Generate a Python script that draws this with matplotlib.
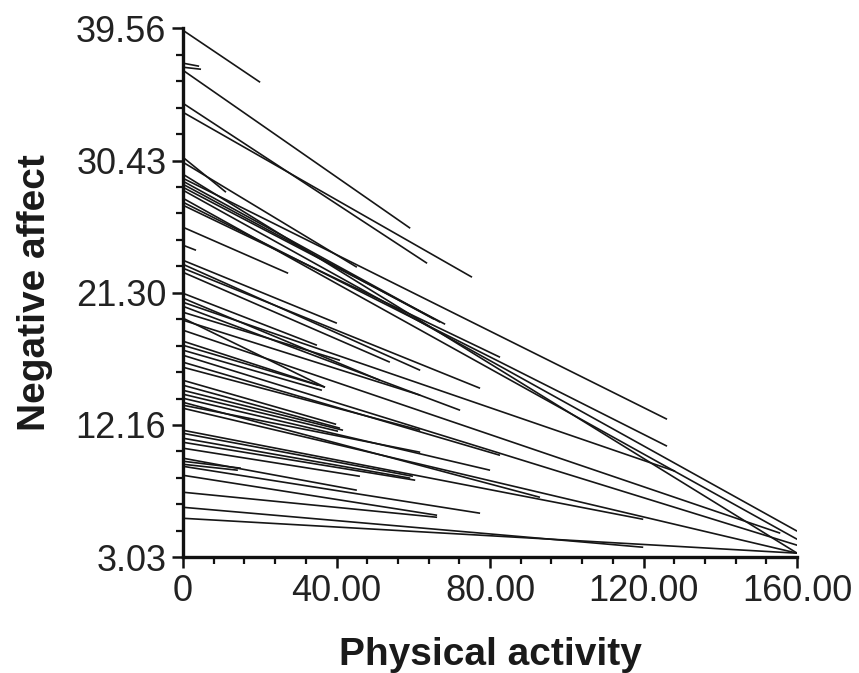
import matplotlib
matplotlib.use("Agg")
import matplotlib.pyplot as plt
import numpy as np

plt.rcParams['font.family'] = ['Liberation Sans', 'DejaVu Sans']

# Each individual regression line: value at x=0, end x, value at end x
start_y = [39.42, 37.15, 36.87, 36.66, 34.38, 33.76, 30.65, 30.31, 29.20, 29.48,
           29.00, 28.79, 28.58, 28.38, 27.82, 27.55, 27.34, 25.82, 24.58, 23.54,
           23.26, 22.99, 22.71, 21.26, 20.92, 20.64, 20.36, 19.95, 19.54, 19.40,
           18.71, 17.95, 17.67, 17.33, 16.98, 16.50, 16.15, 15.25, 14.91, 14.56,
           14.29, 14.01, 13.73, 13.53, 13.32, 11.80, 11.59, 11.25, 10.97, 10.56,
           9.87, 9.66, 9.45, 9.31, 8.69, 7.52, 6.48, 5.72]
end_x = [20.1, 4.2, 4.7, 59.2, 63.6, 75.3, 11.2, 45.3, 126.1, 160.0,
         67.0, 65.4, 68.3, 160.0, 160.0, 126.1, 82.6, 27.4, 3.4, 40.1,
         61.8, 77.4, 53.9, 34.9, 51.3, 128.2, 72.2, 40.9, 37.0, 61.8,
         155.6, 37.0, 35.2, 36.2, 160.0, 82.6, 61.8, 39.9, 40.9, 41.7,
         40.4, 80.0, 93.0, 61.8, 160.0, 119.9, 59.9, 59.2, 60.5, 46.1,
         45.3, 15.1, 14.3, 77.4, 66.2, 66.2, 119.9, 160.0]
end_y = [35.83, 36.94, 36.73, 25.75, 23.33, 22.37, 28.24, 23.06, 12.56, 3.31,
         19.26, 19.47, 19.12, 4.83, 4.27, 10.70, 16.84, 22.64, 24.23, 19.19,
         15.94, 14.70, 16.50, 17.67, 15.25, 8.97, 13.18, 16.63, 14.77, 14.22,
         4.69, 14.77, 14.91, 14.56, 3.86, 10.07, 11.80, 12.21, 11.94, 11.80,
         11.73, 9.04, 7.17, 10.28, 3.31, 5.65, 8.62, 8.49, 8.35, 8.62,
         7.66, 9.18, 9.04, 6.07, 5.93, 5.79, 3.72, 3.31]

x_tick_labels = ["0", "40.00", "80.00", "120.00", "160.00"]
y_tick_labels = ["3.03", "12.16", "21.30", "30.43", "39.56"]
x_min, x_max = 0.0, 160.0
y_min, y_max = 3.03, 39.56

fig = plt.figure(figsize=(8.59, 6.73), dpi=100)
ax = fig.add_axes([0.213, 0.172, 0.715, 0.786])

for y0, x1, y1 in zip(start_y, end_x, end_y):
    ax.plot([0.0, x1], [y0, y1], color='#161616', lw=1.2, solid_capstyle='butt')

ax.set_xlim(x_min, x_max)
ax.set_ylim(y_min, y_max)

ax.set_xticks(np.linspace(x_min, x_max, 5))
ax.set_xticklabels(x_tick_labels)
ax.set_xticks(np.arange(x_min, x_max + 0.1, 8.0), minor=True)
ax.set_yticks(np.linspace(y_min, y_max, 5))
ax.set_yticklabels(y_tick_labels)
ax.set_yticks(np.linspace(y_min, y_max, 21), minor=True)

for s in ['top', 'right']:
    ax.spines[s].set_visible(False)
for s in ['left', 'bottom']:
    ax.spines[s].set_linewidth(2.4)
    ax.spines[s].set_color('#111111')

ax.tick_params(axis='both', which='major', direction='out', length=8, width=1.8,
               color='#111111', labelsize=26, labelcolor='#222222', pad=4)
ax.tick_params(axis='both', which='minor', direction='out', length=5, width=1.6,
               color='#111111')

ax.set_xlabel("Physical activity", fontsize=28, fontweight='bold', labelpad=20,
              color='#1a1a1a')
ax.set_ylabel("Negative affect", fontsize=28, fontweight='bold', labelpad=16,
              color='#1a1a1a')

fig.savefig("out.png", dpi=100)
